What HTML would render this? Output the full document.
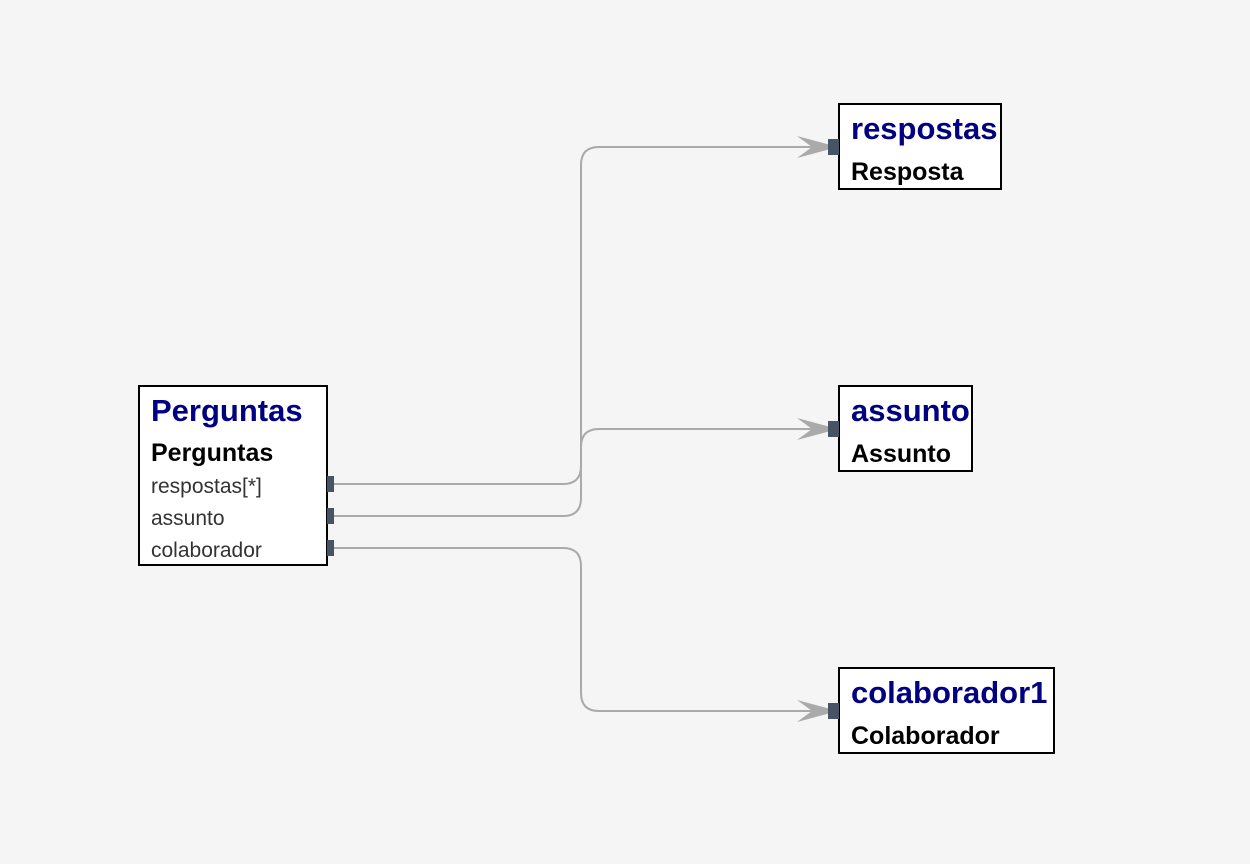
<!DOCTYPE html>
<html><head><meta charset="utf-8"><style>
html,body{margin:0;padding:0;background:#f5f5f5;}
body{width:1250px;height:864px;position:relative;overflow:hidden;font-family:"Liberation Sans",sans-serif;}
.box{position:absolute;background:#fff;border:2px solid #000;box-sizing:border-box;}
.t{position:absolute;left:11px;font-weight:bold;color:#000080;font-size:31px;white-space:nowrap;}
.s{position:absolute;left:11px;font-weight:bold;color:#000;font-size:25px;white-space:nowrap;}
.f{position:absolute;left:11px;color:#333;font-size:21px;white-space:nowrap;}
</style></head><body>
<div class="box" style="left:138px;top:385px;width:190px;height:181px">
<div class="t" style="top:6px">Perguntas</div>
<div class="s" style="top:52px">Perguntas</div>
<div class="f" style="top:88px">respostas[*]</div>
<div class="f" style="top:120px">assunto</div>
<div class="f" style="top:152px">colaborador</div>
</div>
<div class="box" style="left:838px;top:103px;width:164px;height:87px">
<div class="t" style="top:6px">respostas</div>
<div class="s" style="top:53px">Resposta</div>
</div>
<div class="box" style="left:838px;top:385px;width:135px;height:87px">
<div class="t" style="top:6px">assunto</div>
<div class="s" style="top:53px">Assunto</div>
</div>
<div class="box" style="left:838px;top:667px;width:217px;height:87px">
<div class="t" style="top:6px">colaborador1</div>
<div class="s" style="top:53px">Colaborador</div>
</div>
<svg width="1250" height="864" style="position:absolute;left:0;top:0">
<g fill="none" stroke="#aaa" stroke-width="2">
<path d="M333 484 H563 Q581 484 581 466 V165 Q581 147 599 147 H830"/>
<path d="M333 516 H563 Q581 516 581 498 V447 Q581 429 599 429 H830"/>
<path d="M333 548 H563 Q581 548 581 566 V693 Q581 711 599 711 H830"/>
</g>
<g fill="#aaa">
<polygon points="797,136 838,147 797,158 812,147"/>
<polygon points="797,418 838,429 797,440 812,429"/>
<polygon points="797,700 838,711 797,722 812,711"/>
</g>
<g fill="#475466">
<rect x="327" y="476" width="7" height="16"/>
<rect x="327" y="508" width="7" height="16"/>
<rect x="327" y="540" width="7" height="16"/>
<rect x="828" y="139" width="11" height="16"/>
<rect x="828" y="421" width="11" height="16"/>
<rect x="828" y="703" width="11" height="16"/>
</g>
</svg>
</body></html>
